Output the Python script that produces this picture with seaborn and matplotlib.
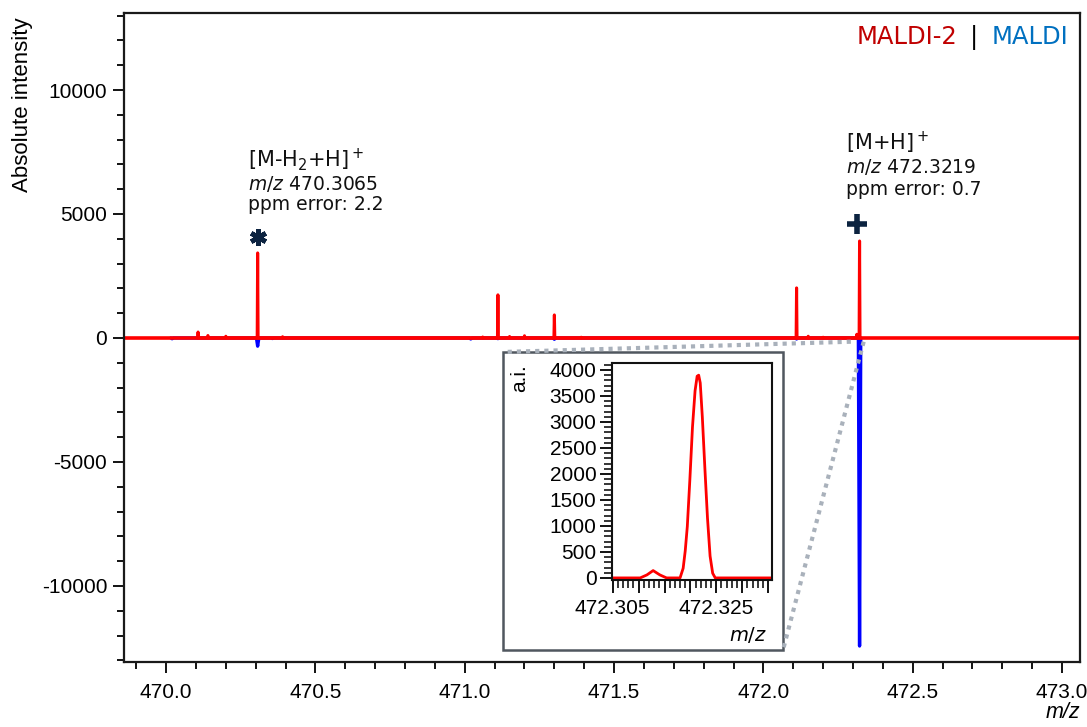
import numpy as np
import pandas as pd
import matplotlib
matplotlib.use("Agg")
import matplotlib.pyplot as plt
import seaborn as sns
from matplotlib.ticker import MultipleLocator, FuncFormatter
from matplotlib.lines import Line2D
from matplotlib.patches import Rectangle

# ---------------- data ----------------
# MALDI-2 (positive, red) peak list: m/z and absolute intensity
maldi2_mz = [470.107, 470.140, 470.200, 470.3065, 470.390, 471.060, 471.111,
             471.150, 471.200, 471.300, 471.390, 472.111, 472.150, 472.200,
             472.3128, 472.3219]
maldi2_int = [240, 100, 70, 3430, 50, 40, 1740, 60, 90, 930, 30, 2020, 70, 30,
              150, 3910]

# MALDI (plotted downward, blue) peak list
maldi_mz = [470.020, 470.3065, 470.356, 471.020, 471.111, 471.300, 472.111,
            472.3219]
maldi_int = [30, 330, 20, 40, 25, 50, 40, 12420]

# inset: MALDI-2 profile around m/z 472.32
inset_mz = [472.3048, 472.3103, 472.3116, 472.3128, 472.3141, 472.3154,
            472.3180, 472.3186, 472.3190, 472.3194, 472.3199, 472.3204,
            472.3209, 472.3213, 472.3216, 472.3219, 472.3223, 472.3228,
            472.3233, 472.3238, 472.3243, 472.3248, 472.3356]
inset_int = [0, 0, 58, 141, 58, 0, 0, 186, 520, 987, 1900, 2900, 3600, 3880,
             3900, 3750, 3100, 2100, 1150, 420, 90, 0, 0]

# annotations
ion_peaks = [470.3065, 472.3219]
ion_heights = [3430, 3910]
ion_labels = ["[M-H$_2$+H]$^+$", "[M+H]$^+$"]
ion_mz_text = ["470.3065", "472.3219"]
ppm_errors = ["2.2", "0.7"]

# ---------------- style ----------------
sns.set_theme(style="ticks")
plt.rcParams["font.family"] = ["Liberation Sans", "DejaVu Sans"]
plt.rcParams["mathtext.fontset"] = "dejavusans"

RED = "#ff0000"
BLUE = "#0000ff"
NAVY = "#0c2340"
ANN_FONT = ["DejaVu Sans"]

W, H = 1087, 727
fig = plt.figure(figsize=(W / 100, H / 100), dpi=100)
fig.patch.set_facecolor("white")

def fx(px):
    return px / W

def fy(py):
    return 1 - py / H

ax = fig.add_axes([fx(124), fy(662), fx(1080) - fx(124), fy(13) - fy(662)])


def stick_profile(mz, inten, half, sign=1):
    xs, ys = [], []
    for m, h in sorted(zip(mz, inten)):
        xs += [m - half, m, m + half]
        ys += [0, sign * h, 0]
    return pd.DataFrame({"mz": xs, "intensity": ys})


blue_df = stick_profile(maldi_mz, maldi_int, 0.004, sign=-1)
red_df = stick_profile(maldi2_mz, maldi2_int, 0.0015, sign=1)

sns.lineplot(data=blue_df, x="mz", y="intensity", ax=ax, color=BLUE, lw=2.4,
             estimator=None, sort=False, zorder=2)
ax.axhline(0, color=RED, lw=2.6, zorder=2.5)
sns.lineplot(data=red_df, x="mz", y="intensity", ax=ax, color=RED, lw=2.2,
             estimator=None, sort=False, zorder=3)

ax.set_xlim(469.859, 473.06)
ax.set_ylim(-13065, 13105)
ax.xaxis.set_major_locator(MultipleLocator(0.5))
ax.xaxis.set_minor_locator(MultipleLocator(0.1))
ax.yaxis.set_major_locator(MultipleLocator(5000))
ax.yaxis.set_minor_locator(MultipleLocator(1000))
ax.xaxis.set_major_formatter(FuncFormatter(lambda v, p: f"{v:.1f}"))
ax.yaxis.set_major_formatter(FuncFormatter(lambda v, p: f"{v:.0f}"))
ax.tick_params(axis="both", which="major", direction="out", length=8,
               width=1.3, labelsize=15, color="black", labelcolor="black")
ax.tick_params(axis="both", which="minor", direction="out", length=5,
               width=1.3, color="black")
ax.tick_params(axis="x", which="major", pad=7)
ax.tick_params(axis="y", which="major", pad=4)
for s in ax.spines.values():
    s.set_visible(True)
    s.set_color("#1a1a1a")
    s.set_linewidth(1.6)
ax.set_xlabel("")
ax.set_ylabel("")
ax.text((22 - 124) / 956, (662 - 105) / 649, "Absolute intensity",
        transform=ax.transAxes, rotation=90, ha="center", va="center",
        fontsize=16, color="black")
ax.text((1063 - 124) / 956, (662 - 713) / 649, "m/z", style="italic",
        transform=ax.transAxes, ha="center", va="center", fontsize=15.5,
        color="black")

# markers above the annotated peaks
ax.plot([ion_peaks[0]], [ion_heights[0] + 650], marker=(6, 2, 0), ms=12,
        mew=3.4, color=NAVY, zorder=4, ls="none")
ax.plot([ion_peaks[1] - 0.01], [ion_heights[1] + 690], marker="+", ms=14.5,
        mew=4.0, color=NAVY, zorder=4, ls="none")

# annotation blocks (left offset from peak, in m/z units)
label_dx = [0.032, 0.047]
label_y = [(7180, 6210, 5365), (7865, 6895, 5970)]
for pk, dx, lab, mzt, ppm, ys in zip(ion_peaks, label_dx, ion_labels,
                                     ion_mz_text, ppm_errors, label_y):
    x0 = pk - dx
    ax.text(x0, ys[0], lab, fontsize=15, family=ANN_FONT, ha="left",
            va="center", color="#111111")
    ax.text(x0, ys[1], "$m/z$ " + mzt, fontsize=13.5, family=ANN_FONT,
            ha="left", va="center", color="#111111")
    ax.text(x0, ys[2], "ppm error: " + ppm, fontsize=13.5, family=ANN_FONT,
            ha="left", va="center", color="#111111")

# ---------------- inset ----------------
box = Rectangle((fx(503), fy(650)), fx(783) - fx(503), fy(352) - fy(650),
                transform=fig.transFigure, facecolor="white",
                edgecolor="#50575f", lw=1.8, zorder=1)
fig.add_artist(box)

iax = fig.add_axes([fx(611.7), fy(580), fx(771.7) - fx(611.7),
                    fy(362.7) - fy(580)])
iax.set_zorder(2)
sns.lineplot(x=inset_mz, y=inset_int, ax=iax, color=RED, lw=2,
             estimator=None, sort=False)
iax.set_xlim(472.3048, 472.3357)
iax.set_ylim(-40, 4140)
iax.xaxis.set_major_locator(MultipleLocator(0.005))
iax.xaxis.set_minor_locator(MultipleLocator(0.001))
iax.yaxis.set_major_locator(MultipleLocator(500))
iax.yaxis.set_minor_locator(MultipleLocator(100))
shown = {472.305, 472.325}
iax.xaxis.set_major_formatter(FuncFormatter(
    lambda v, p: f"{v:.3f}" if any(abs(v - s) < 1e-6 for s in shown) else ""))
iax.yaxis.set_major_formatter(FuncFormatter(lambda v, p: f"{v:.0f}"))
iax.tick_params(axis="both", which="major", direction="out", length=9,
                width=1.3, labelsize=15, color="black", labelcolor="black")
iax.tick_params(axis="both", which="minor", direction="out", length=6,
                width=1.1, color="black")
iax.tick_params(axis="x", which="major", pad=5)
iax.tick_params(axis="y", which="major", pad=2)
for s in iax.spines.values():
    s.set_visible(True)
    s.set_color("#111111")
    s.set_linewidth(1.5)
iax.set_xlabel("")
iax.set_ylabel("")
fig.text(fx(520), fy(378), "a.i.", rotation=90, ha="center", va="center",
         fontsize=15, color="black", zorder=3)
fig.text(fx(748), fy(635), "$m/z$", ha="center", va="center", fontsize=14,
         family=ANN_FONT, color="black", zorder=3)

# dotted connectors from the zoomed region to the inset box
fig.canvas.draw()
inv = fig.transFigure.inverted()
pA = inv.transform(ax.transData.transform((iax.get_xlim()[0] - 0.012, -150)))
pB = inv.transform(ax.transData.transform((iax.get_xlim()[1], -150)))
for (xa, ya), (xb, yb) in [(pA, (fx(503), fy(352))), (pB, (fx(783), fy(650)))]:
    fig.add_artist(Line2D([xa, xb], [ya, yb], transform=fig.transFigure,
                          color="#a9b1bb", lw=3, ls=(0, (1, 1.2)), zorder=1.5))

# ---------------- MALDI-2 | MALDI header ----------------
renderer = fig.canvas.get_renderer()
hy = fy(37)
t3 = fig.text(fx(1068), hy, "MALDI", ha="right", va="center", fontsize=17.5,
              family=ANN_FONT, color="#0070c0")
bb = t3.get_window_extent(renderer)
t2 = fig.text((bb.x0 - 13) / W, hy, "|", ha="right", va="center",
              fontsize=17.5, family=ANN_FONT, color="black")
bb2 = t2.get_window_extent(renderer)
fig.text((bb2.x0 - 13) / W, hy, "MALDI-2", ha="right", va="center",
         fontsize=17.5, family=ANN_FONT, color="#c00000")

fig.savefig("out.png", dpi=100, facecolor="white")
